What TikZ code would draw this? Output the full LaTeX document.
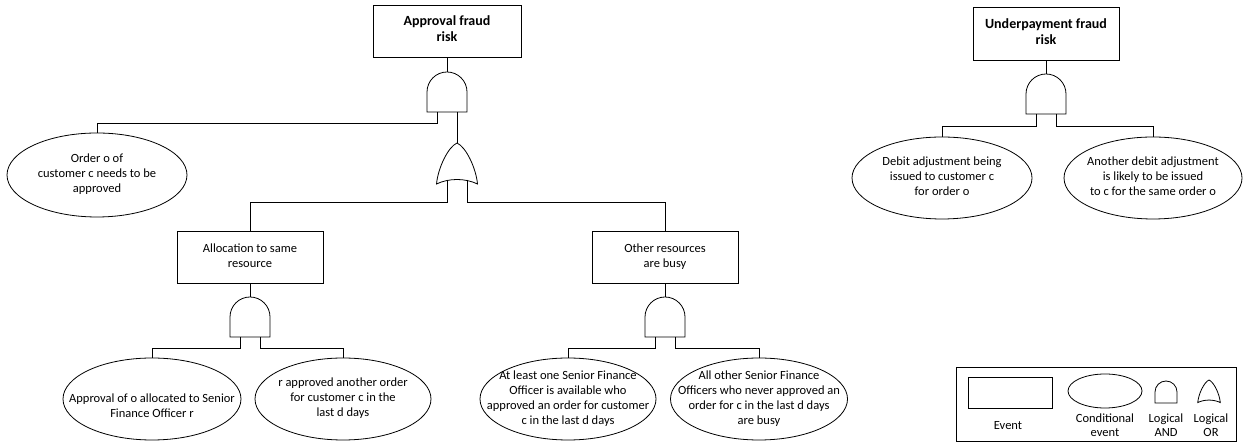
\documentclass[tikz,border=0pt]{standalone}
\usepackage{fontspec}
\setmainfont{Carlito}
\usetikzlibrary{shapes.geometric}
\newcommand{\etext}[2][0pt]{\smash{\makebox[0pt][c]{\raisebox{\dimexpr-3pt-#1\relax}{\begin{tabular}{@{}c@{}}#2\end{tabular}}}}}
\tikzset{
  every node/.style={font=\fontsize{12.5}{15}\selectfont, inner sep=0pt},
  evbox/.style={draw, rectangle, minimum width=#1, minimum height=52pt},
  titlebox/.style={draw, rectangle, minimum width=#1, minimum height=52pt, font=\fontsize{14}{16}\selectfont\bfseries},
  condell/.style={draw, ellipse, minimum width=#1, minimum height=82pt},
  lbl/.style={font=\fontsize{12.5}{14}\selectfont},
  andgate/.pic={
    \draw (-20pt,-40pt) -- (-20pt,-20pt) arc[start angle=180,end angle=0,radius=20pt] -- (20pt,-40pt) -- cycle;
    \coordinate (-top) at (0,0);
    \coordinate (-l) at (-10pt,-40pt);
    \coordinate (-r) at (10pt,-40pt);
  },
  orgate/.pic={
    \draw (0,0) .. controls (-9pt,-4pt) and (-19pt,-25pt) .. (-20.5pt,-41pt)
      .. controls (-8pt,-35pt) and (8pt,-35pt) .. (20.5pt,-41pt)
      .. controls (19pt,-25pt) and (9pt,-4pt) .. (0,0) -- cycle;
    \coordinate (-top) at (0,0);
    \coordinate (-l) at (-10pt,-37pt);
    \coordinate (-r) at (10pt,-37pt);
  }
}
\begin{document}
\begin{tikzpicture}[x=1pt,y=1pt,line width=0.8pt]
\useasboundingbox (0,0) rectangle (1246,443);

% ---- Approval fraud risk tree ----
\node[titlebox=148pt] (A) at (447,412) {\etext{Approval fraud\\risk}};
\pic (g1) at (447,371) {andgate};
\node[condell=180pt, minimum height=84pt] (order) at (97,268) {\etext{Order o of\\customer c needs to be\\approved}};
\pic (g2) at (457,300) {orgate};
\node[evbox=146pt] (alloc) at (250,186) {\etext{Allocation to same\\resource}};
\node[evbox=146pt] (other) at (665,186) {\etext{Other resources\\are busy}};
\pic (g3) at (250,146) {andgate};
\pic (g4) at (665,146) {andgate};
\node[condell=178pt] (a1) at (152,44) {\etext[8pt]{Approval of o allocated to Senior\\Finance Officer r}};
\node[condell=176pt] (a2) at (343,44) {\etext{r approved another order\\for customer c in the\\last d days}};
\node[condell=176pt] (b1) at (568,44) {\etext{At least one Senior Finance\\Officer is available who\\approved an order for customer\\c in the last d days}};
\node[condell=177pt] (b2) at (759,44) {\etext{All other Senior Finance\\Officers who never approved an\\order for c in the last d days\\are busy}};

\draw (A.south) -- (g1-top);
\draw (g1-l) -- ++(0,-11) -| (order.north);
\draw (g1-r) -- (g2-top);
\draw (g2-l) -- ++(0,-22) -| (alloc.north);
\draw (g2-r) -- ++(0,-22) -| (other.north);
\draw (alloc.south) -- (g3-top);
\draw (g3-l) -- ++(0,-11) -| (a1.north);
\draw (g3-r) -- ++(0,-11) -| (a2.north);
\draw (other.south) -- (g4-top);
\draw (g4-l) -- ++(0,-11) -| (b1.north);
\draw (g4-r) -- ++(0,-11) -| (b2.north);

% ---- Underpayment fraud risk tree ----
\node[titlebox=146pt, minimum height=53pt] (U) at (1046,409.5) {\etext{Underpayment fraud\\risk}};
\pic (g5) at (1046,369) {andgate};
\node[condell=180pt] (c1) at (942,265) {\etext{Debit adjustment being\\issued to customer c\\for order o}};
\node[condell=178pt] (c2) at (1153,265) {\etext{Another debit adjustment\\is likely to be issued\\to c for the same order o}};
\draw (U.south) -- (g5-top);
\draw (g5-l) -- ++(0,-12) -| (c1.north);
\draw (g5-r) -- ++(0,-12) -| (c2.north);

% ---- Legend ----
\node[draw, rectangle, minimum width=280pt, minimum height=74pt] (leg) at (1096,39) {};
\node[draw, rectangle, minimum width=84pt, minimum height=31pt] (levent) at (1010,50.5) {};
\node[draw, ellipse, minimum width=74pt, minimum height=34pt] (lcond) at (1105,52) {};
\pic[scale=0.55] (land) at (1166,62) {andgate};
\pic[scale=0.55] (lor) at (1209,63) {orgate};
\node[lbl] (tevent) at (1008,16) {\etext{Event}};
\node[lbl] (tcond) at (1105,16) {\etext{Conditional\\event}};
\node[lbl] (tand) at (1166,16) {\etext{Logical\\AND}};
\node[lbl] (tor) at (1211,16) {\etext{Logical\\OR}};
\end{tikzpicture}
\end{document}
